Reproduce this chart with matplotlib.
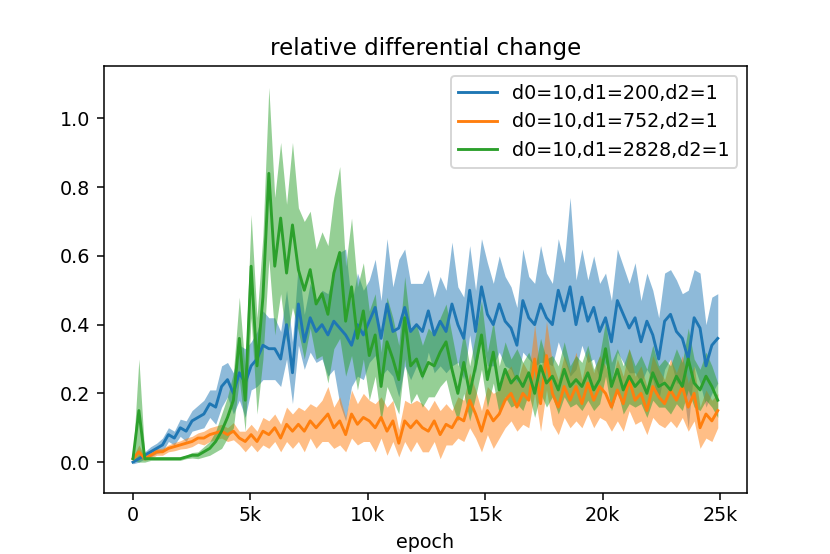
import numpy as np
import matplotlib
matplotlib.use("Agg")
import matplotlib.pyplot as plt
from matplotlib.ticker import FuncFormatter

# 100 samples from epoch 0 to 24900
epochs = np.linspace(0, 24900, 100)

labels = ["d0=10,d1=200,d2=1", "d0=10,d1=752,d2=1", "d0=10,d1=2828,d2=1"]

mean_200 = [
    0.00, 0.01, 0.02, 0.03, 0.04, 0.05, 0.08, 0.07,
    0.10, 0.09, 0.12, 0.13, 0.14, 0.17, 0.16, 0.22,
    0.24, 0.20, 0.26, 0.23, 0.28, 0.30, 0.34, 0.33,
    0.33, 0.30, 0.40, 0.26, 0.46, 0.35, 0.42, 0.38,
    0.40, 0.37, 0.41, 0.39, 0.37, 0.34, 0.40, 0.37,
    0.41, 0.45, 0.36, 0.46, 0.38, 0.39, 0.45, 0.38,
    0.40, 0.38, 0.44, 0.37, 0.41, 0.38, 0.46, 0.40,
    0.36, 0.50, 0.38, 0.51, 0.43, 0.40, 0.46, 0.41,
    0.39, 0.34, 0.47, 0.42, 0.40, 0.46, 0.42, 0.40,
    0.50, 0.44, 0.51, 0.40, 0.48, 0.41, 0.45, 0.38,
    0.42, 0.35, 0.47, 0.43, 0.39, 0.42, 0.35, 0.41,
    0.37, 0.30, 0.41, 0.43, 0.38, 0.36, 0.30, 0.42,
    0.39, 0.28, 0.34, 0.36,
]
band_200 = [
    0.005, 0.01, 0.01, 0.015, 0.015, 0.02, 0.02, 0.02,
    0.025, 0.03, 0.03, 0.035, 0.04, 0.04, 0.05, 0.06,
    0.05, 0.06, 0.08, 0.10, 0.07, 0.08, 0.10, 0.09,
    0.09, 0.08, 0.10, 0.09, 0.12, 0.08, 0.10, 0.09,
    0.10, 0.12, 0.14, 0.22, 0.25, 0.12, 0.15, 0.13,
    0.12, 0.14, 0.11, 0.19, 0.13, 0.20, 0.17, 0.14,
    0.12, 0.14, 0.12, 0.11, 0.13, 0.12, 0.18, 0.11,
    0.12, 0.13, 0.12, 0.14, 0.15, 0.12, 0.14, 0.13,
    0.12, 0.11, 0.15, 0.12, 0.12, 0.17, 0.13, 0.12,
    0.15, 0.14, 0.26, 0.13, 0.14, 0.12, 0.15, 0.14,
    0.13, 0.12, 0.15, 0.14, 0.13, 0.16, 0.12, 0.14,
    0.13, 0.12, 0.14, 0.13, 0.15, 0.13, 0.20, 0.14,
    0.16, 0.12, 0.14, 0.13,
]

mean_752 = [
    0.01, 0.03, 0.01, 0.02, 0.03, 0.03, 0.04, 0.045,
    0.05, 0.055, 0.06, 0.07, 0.07, 0.08, 0.085, 0.09,
    0.08, 0.09, 0.07, 0.06, 0.08, 0.06, 0.09, 0.08,
    0.10, 0.07, 0.11, 0.09, 0.11, 0.09, 0.12, 0.10,
    0.12, 0.14, 0.10, 0.12, 0.08, 0.14, 0.11, 0.13,
    0.12, 0.10, 0.13, 0.09, 0.12, 0.055, 0.12, 0.10,
    0.12, 0.10, 0.09, 0.12, 0.08, 0.11, 0.10, 0.13,
    0.12, 0.18, 0.14, 0.09, 0.15, 0.12, 0.14, 0.18,
    0.20, 0.16, 0.20, 0.18, 0.30, 0.17, 0.31, 0.20,
    0.16, 0.22, 0.18, 0.22, 0.17, 0.23, 0.18, 0.22,
    0.20, 0.16, 0.21, 0.17, 0.24, 0.18, 0.20, 0.15,
    0.22, 0.19, 0.17, 0.21, 0.18, 0.22, 0.16, 0.20,
    0.10, 0.14, 0.12, 0.15,
]
band_752 = [
    0.005, 0.02, 0.005, 0.01, 0.01, 0.01, 0.01, 0.012,
    0.012, 0.015, 0.015, 0.015, 0.02, 0.02, 0.02, 0.02,
    0.02, 0.025, 0.02, 0.03, 0.03, 0.03, 0.04, 0.04,
    0.04, 0.04, 0.05, 0.05, 0.05, 0.06, 0.05, 0.06,
    0.06, 0.08, 0.06, 0.07, 0.05, 0.07, 0.06, 0.07,
    0.06, 0.07, 0.06, 0.07, 0.06, 0.04, 0.06, 0.07,
    0.06, 0.07, 0.06, 0.06, 0.07, 0.06, 0.05, 0.06,
    0.06, 0.08, 0.07, 0.06, 0.07, 0.08, 0.07, 0.08,
    0.08, 0.07, 0.09, 0.08, 0.10, 0.08, 0.10, 0.09,
    0.08, 0.09, 0.08, 0.10, 0.07, 0.09, 0.08, 0.09,
    0.08, 0.07, 0.09, 0.08, 0.09, 0.07, 0.08, 0.07,
    0.09, 0.08, 0.07, 0.09, 0.08, 0.09, 0.07, 0.08,
    0.06, 0.07, 0.06, 0.05,
]

mean_2828 = [
    0.01, 0.15, 0.01, 0.01, 0.01, 0.01, 0.01, 0.01,
    0.01, 0.015, 0.02, 0.02, 0.03, 0.04, 0.06, 0.09,
    0.13, 0.18, 0.36, 0.18, 0.57, 0.28, 0.48, 0.84,
    0.57, 0.71, 0.55, 0.69, 0.56, 0.50, 0.56, 0.46,
    0.49, 0.43, 0.55, 0.61, 0.41, 0.51, 0.36, 0.44,
    0.31, 0.37, 0.22, 0.35, 0.30, 0.24, 0.42, 0.28,
    0.30, 0.25, 0.29, 0.28, 0.32, 0.35, 0.27, 0.20,
    0.29, 0.20, 0.28, 0.37, 0.24, 0.32, 0.21, 0.27,
    0.23, 0.25, 0.22, 0.26, 0.20, 0.28, 0.23, 0.25,
    0.21, 0.27, 0.22, 0.24, 0.22, 0.26, 0.21, 0.24,
    0.33, 0.22, 0.27, 0.21, 0.25, 0.22, 0.24, 0.20,
    0.26, 0.22, 0.23, 0.21, 0.25, 0.22, 0.30, 0.23,
    0.21, 0.25, 0.22, 0.18,
]
band_2828 = [
    0.005, 0.15, 0.01, 0.005, 0.005, 0.005, 0.005, 0.005,
    0.005, 0.005, 0.008, 0.01, 0.015, 0.02, 0.03, 0.05,
    0.06, 0.08, 0.12, 0.09, 0.15, 0.14, 0.18, 0.25,
    0.20, 0.22, 0.20, 0.24, 0.18, 0.20, 0.17, 0.16,
    0.18, 0.20, 0.22, 0.25, 0.16, 0.20, 0.15, 0.14,
    0.13, 0.12, 0.10, 0.13, 0.12, 0.10, 0.12, 0.11,
    0.10, 0.09, 0.10, 0.09, 0.10, 0.11, 0.10, 0.08,
    0.09, 0.08, 0.09, 0.10, 0.08, 0.09, 0.07, 0.08,
    0.07, 0.08, 0.07, 0.06, 0.07, 0.08, 0.07, 0.06,
    0.07, 0.08, 0.06, 0.07, 0.07, 0.08, 0.06, 0.07,
    0.08, 0.07, 0.06, 0.07, 0.08, 0.06, 0.07, 0.07,
    0.08, 0.06, 0.07, 0.07, 0.08, 0.07, 0.09, 0.07,
    0.06, 0.07, 0.06, 0.05,
]

series = [
    (mean_200, band_200),
    (mean_752, band_752),
    (mean_2828, band_2828),
]

fig, ax = plt.subplots(figsize=(830 / 138, 554 / 138), dpi=138)

for i, (m, b) in enumerate(series):
    m = np.array(m)
    b = np.array(b)
    color = f"C{i}"
    ax.plot(epochs, m, color=color, label=labels[i], linewidth=1.5)
    ax.fill_between(epochs, m - b, m + b, color=color, alpha=0.5, linewidth=0)

ax.set_ylim(-0.09, 1.151)
ax.xaxis.set_major_formatter(FuncFormatter(lambda v, p: "0" if v == 0 else f"{int(v / 1000)}k"))
ax.set_xlabel("epoch")
ax.set_title("relative differential change")
ax.legend(loc="upper right")

fig.savefig("out.png", dpi=138)
